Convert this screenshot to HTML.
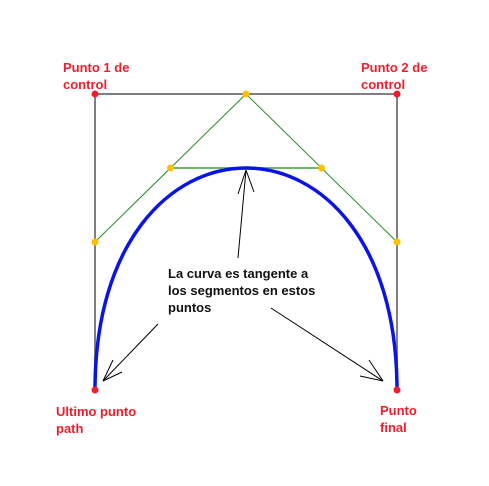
<!DOCTYPE html>
<html><head><meta charset="utf-8"><style>body{margin:0;background:#fff}svg{display:block}text{font-family:"Liberation Sans",Arial,sans-serif;font-weight:bold;font-size:13px}</style></head>
<body>
<svg width="489" height="486">
<rect width="489" height="486" fill="#fff"/>
<g id="g"></g>
<g fill="#f01e2c">
<text x="63" y="72">Punto 1 de</text>
<text x="63" y="89">control</text>
<text x="361" y="72">Punto 2 de</text>
<text x="361" y="89">control</text>
<text x="56" y="416">Ultimo punto</text>
<text x="56" y="433">path</text>
<text x="380" y="415">Punto</text>
<text x="380" y="432">final</text>
</g>
<g fill="#111">
<text x="168" y="278">La curva es tangente a</text>
<text x="168" y="295">los segmentos en estos</text>
<text x="168" y="312">puntos</text>
</g>
</svg>
<script>
const P=[[95,390],[95,94],[397,94],[397,390]];
const g=document.getElementById('g');const NS='http://www.w3.org/2000/svg';
function mk(t,a,name){const e=document.createElementNS(NS,t);for(const k in a)e.setAttribute(k,a[k]);


g.appendChild(e);return e;}
const m=(a,b)=>[(a[0]+b[0])/2,(a[1]+b[1])/2];
const A=m(P[0],P[1]),B=m(P[1],P[2]),C=m(P[2],P[3]),D=m(A,B),E=m(B,C),T=m(D,E);
mk('polyline',{points:P.map(p=>p.join(',')).join(' '),fill:'none',stroke:'#808080','stroke-width':2},'control-polygon');
mk('polyline',{points:[A,B,C].map(p=>p.join(',')).join(' '),fill:'none',stroke:'#2a8a2a','stroke-width':1},'first-level-lines');
mk('line',{x1:D[0],y1:D[1],x2:E[0],y2:E[1],stroke:'#6cb86c','stroke-width':2},'second-level-line');
mk('path',{d:`M${P[0]}C${P[1]} ${P[2]} ${P[3]}`,fill:'none',stroke:'#0a14e6','stroke-width':3.5},'bezier-curve');
[A,B,C,D,E].forEach(p=>mk('circle',{cx:p[0],cy:p[1],r:3.5,fill:'#ffc000'},'midpoint'));
P.forEach(p=>mk('circle',{cx:p[0],cy:p[1],r:3.5,fill:'#f01e2c'},'control-point'));
const arrows=[[[158,324],[103,381],[[113,360],[122,372]]],[[271,308],[383,381],[[369,360],[360,376]]],[[238,258],[246,170],[[238,194],[254,192]]]];
arrows.forEach(a=>{mk('line',{x1:a[0][0],y1:a[0][1],x2:a[1][0],y2:a[1][1],stroke:'#000','stroke-width':1},'arrow');
a[2].forEach(h=>mk('line',{x1:h[0],y1:h[1],x2:a[1][0],y2:a[1][1],stroke:'#000','stroke-width':1},'arrow-head'));});
</script>
</body></html>
